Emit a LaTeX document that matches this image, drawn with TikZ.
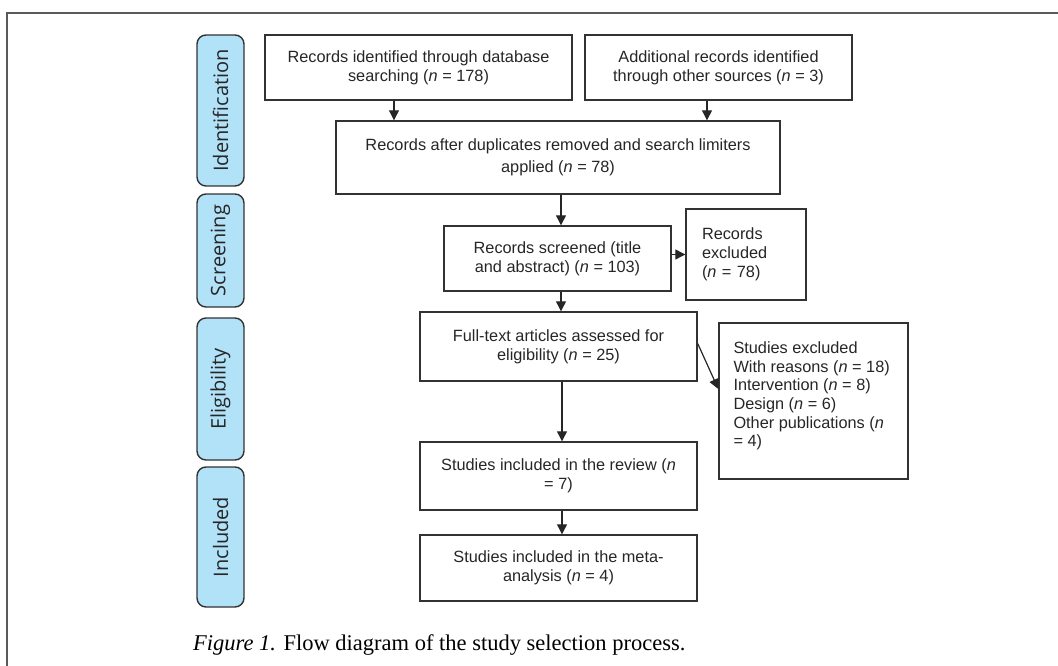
\documentclass[tikz,border=0pt]{standalone}
\usepackage{fontspec}
\setmainfont{Liberation Sans}
\newfontfamily\labfont{Open Sans}
\newfontfamily\capfont{Liberation Serif}
\usetikzlibrary{arrows.meta,calc}
\definecolor{phaseblue}{RGB}{178,226,248}
\definecolor{edgegray}{RGB}{50,50,50}
\definecolor{framegray}{RGB}{90,90,90}
\tikzset{
  box/.style={draw=edgegray, line width=1.4pt, rectangle, inner sep=0pt, align=center,
    font=\fontsize{16.3}{19}\selectfont, text=black!85},
  plain/.style={inner sep=0pt, align=left, font=\fontsize{16.3}{18.7}\selectfont, text=black!85},
  phase/.style={draw=edgegray, line width=1.4pt, fill=phaseblue, rounded corners=9pt,
    rotate=90, inner sep=0pt, minimum height=47pt, font=\labfont\fontsize{20}{22}\selectfont, text=black!85},
  arr/.style={draw=black!85, line width=1.2pt, -{Triangle[length=10pt,width=10pt]}}
}
\begin{document}
\begin{tikzpicture}[x=1pt,y=-1pt]
\useasboundingbox (0,0) rectangle (1058,666);
\draw[framegray, line width=1.5pt] (7,670) -- (7,13) -- (1062,13);

% phases
\node[phase, minimum width=151pt] (ph1) at (220.5,110.5) {Identification};
\node[phase, minimum width=113pt] (ph2) at (220.5,250.5) {Screening};
\node[phase, minimum width=142pt] (ph3) at (220.5,389) {Eligibility};
\node[phase, minimum width=140pt] (ph4) at (220.5,537) {Included};

% boxes
\node[box, minimum width=307pt, minimum height=65pt] (A) at (418.5,67.5)
  {Records identified through database\\searching (\textit{n} = 178)};
\node[box, minimum width=267pt, minimum height=65pt] (B) at (718.5,67.5)
  {Additional records identified\\through other sources (\textit{n} = 3)};
\node[box, minimum width=444pt, minimum height=73pt, font=\fontsize{16.3}{22}\selectfont] (C) at (558,157.5)
  {Records after duplicates removed and search limiters\\applied (\textit{n} = 78)};
\node[box, minimum width=227pt, minimum height=65pt] (D) at (557.5,258.5)
  {Records screened (title\\and abstract) (\textit{n} = 103)};
\node[box, minimum width=120pt, minimum height=91pt, text width=88pt, inner xsep=16pt, align=left] (E) at (746,254.5)
  {Records\\excluded\\(\textit{n} = 78)};
\node[box, minimum width=277pt, minimum height=69pt] (F) at (558.5,346.5)
  {Full-text articles assessed for\\eligibility (\textit{n} = 25)};
\node[box, minimum width=189pt, minimum height=156pt] (G) at (813.5,401) {};
\node[plain, anchor=north west] (Gt) at ([xshift=15pt,yshift=-19pt]G.north west)
  {Studies excluded\\With reasons (\textit{n} = 18)\\Intervention (\textit{n} = 8)\\Design (\textit{n} = 6)\\Other publications (\textit{n}\\= 4)};
\node[box, minimum width=277pt, minimum height=68pt] (H) at (558.5,476)
  {Studies included in the review (\textit{n}\\= 7)};
\node[box, minimum width=277pt, minimum height=66pt] (I) at (558.5,568)
  {Studies included in the meta-\\analysis (\textit{n} = 4)};

% connectors
\draw[arr] ([xshift=-24.5pt]A.south) -- ([xshift=-24.5pt]A.south |- C.north);
\draw[arr] ([xshift=-11.5pt]B.south) -- ([xshift=-11.5pt]B.south |- C.north);
\draw[arr] ([xshift=3.5pt]D.north |- C.south) -- ([xshift=3.5pt]D.north);
\draw[arr] (D.east |- E.west) -- (E.west);
\draw[arr] ([xshift=3.5pt]D.south) -- ([xshift=3.5pt]D.south |- F.north);
\draw[arr] ([yshift=3pt]F.east) -- ([yshift=12pt]G.west);
\draw[arr] ([xshift=3.5pt]F.south) -- ([xshift=3.5pt]H.north);
\draw[arr] ([xshift=3.5pt]H.south) -- ([xshift=3.5pt]I.north);

% caption
\node[anchor=base west, inner sep=0pt, font=\capfont\fontsize{22.5}{26}\selectfont] (cap) at (193,650)
  {\textit{Figure 1.} Flow diagram of the study selection process.};
\end{tikzpicture}
\end{document}
